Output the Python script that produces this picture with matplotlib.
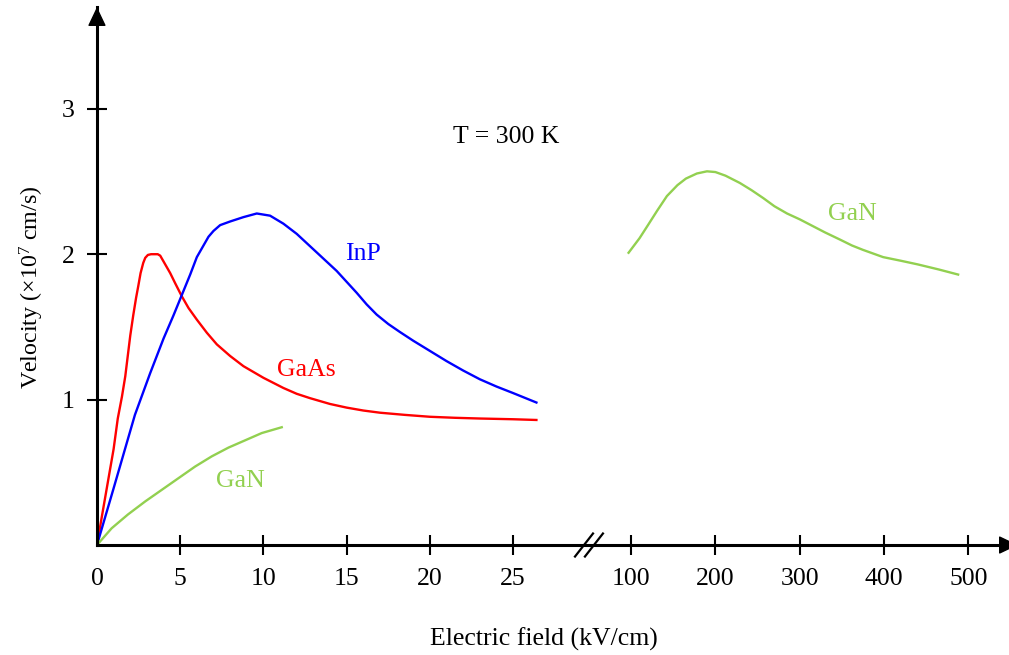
import numpy as np
import matplotlib.pyplot as plt

plt.rcParams['font.family'] = 'Liberation Serif'
plt.rcParams['mathtext.fontset'] = 'custom'
plt.rcParams['mathtext.rm'] = 'Liberation Serif'
plt.rcParams['mathtext.it'] = 'Liberation Serif:italic'
plt.rcParams['mathtext.default'] = 'regular'

# drift velocity (x1e7 cm/s) vs electric field (kV/cm) at 300 K
gaas_field = [0, 0.3, 0.68, 1.0, 1.25, 1.5, 1.7, 1.85, 2.0, 2.18, 2.35, 2.48, 2.62, 2.78,
              2.9, 3.06, 3.25, 3.45, 3.65, 3.8, 3.95, 4.2, 4.4, 4.7, 5.1, 5.5, 6.0, 6.6,
              7.2, 8.0, 8.8, 10.0, 11.2, 12.0, 12.8, 14.0, 15.0, 16.0, 17.0, 18.5, 20.0,
              21.5, 23.0, 25.0, 26.4]
gaas_vel = [0, 0.2, 0.45, 0.66, 0.87, 1.02, 1.16, 1.30, 1.44, 1.58, 1.70, 1.78, 1.87, 1.94,
            1.975, 1.995, 2.0, 2.0, 2.0, 1.99, 1.96, 1.91, 1.87, 1.80, 1.71, 1.63, 1.55, 1.46,
            1.38, 1.30, 1.23, 1.15, 1.08, 1.04, 1.01, 0.97, 0.945, 0.925, 0.91, 0.895, 0.882,
            0.875, 0.87, 0.865, 0.86]

inp_field = [0, 1.0, 2.28, 3.19, 4.0, 4.6, 5.1, 5.6, 6.0, 6.4, 6.7, 7.0, 7.4, 8.0, 8.8,
             9.6, 10.4, 11.2, 12.0, 12.8, 13.6, 14.4, 15.0, 15.6, 16.2, 16.8, 17.5, 18.2,
             19.0, 20.0, 21.0, 22.0, 23.0, 24.0, 25.0, 26.4]
inp_vel = [0, 0.39, 0.895, 1.18, 1.42, 1.58, 1.72, 1.86, 1.98, 2.06, 2.12, 2.16, 2.20, 2.225,
           2.255, 2.28, 2.265, 2.21, 2.14, 2.055, 1.97, 1.885, 1.81, 1.735, 1.655, 1.585,
           1.52, 1.465, 1.405, 1.335, 1.265, 1.20, 1.14, 1.09, 1.045, 0.98]

gan_low_field = [0, 0.88, 1.86, 2.9, 3.9, 4.9, 5.9, 6.9, 7.9, 8.9, 9.9, 11.1]
gan_low_vel = [0, 0.115, 0.21, 0.30, 0.38, 0.46, 0.54, 0.61, 0.67, 0.72, 0.77, 0.81]

gan_high_field = [97, 110, 120, 131, 142.5, 155, 165, 178, 190, 200, 212, 229, 243, 257,
                  270, 285, 300, 315, 330, 348, 362, 375, 399, 420, 440, 465, 488]
gan_high_vel = [2.01, 2.11, 2.20, 2.30, 2.40, 2.475, 2.52, 2.555, 2.57, 2.565, 2.54, 2.49,
                2.44, 2.385, 2.33, 2.28, 2.24, 2.195, 2.15, 2.10, 2.06, 2.03, 1.98, 1.955,
                1.93, 1.895, 1.86]

low_ticks = [0, 5, 10, 15, 20, 25]
high_ticks = [100, 200, 300, 400, 500]
vel_ticks = [1, 2, 3]

# broken x axis: linear 0..29.6, then 100..500 squeezed by ~1/20
brk_x = [-100, 29.6, 55, 1000]
brk_u = [-100, 29.6, 29.81, 77.66]


def forward(x):
    return np.interp(x, brk_x, brk_u)


def inverse(u):
    return np.interp(u, brk_u, brk_x)


fig = plt.figure(figsize=(10.09, 6.55), dpi=100)
ax = fig.add_axes([0.0961, 0.1679, 0.9128, 0.8214])
ax.set_xscale('function', functions=(forward, inverse))
ax.set_xlim(0, 559)
ax.set_ylim(0, 3.70)

lw = 1.7
ax.plot(gaas_field, gaas_vel, color='#FF0000', lw=lw)
ax.plot(inp_field, inp_vel, color='#0000FF', lw=lw)
ax.plot(gan_low_field, gan_low_vel, color='#92D050', lw=lw)
ax.plot(gan_high_field, gan_high_vel, color='#92D050', lw=lw)

for s in ['top', 'right']:
    ax.spines[s].set_visible(False)
for s in ['left', 'bottom']:
    ax.spines[s].set_linewidth(2.2)

ax.set_xticks(low_ticks + high_ticks)
ax.set_xticklabels([str(t) for t in low_ticks + high_ticks])
ax.set_yticks(vel_ticks)
ax.tick_params(direction='inout', length=14.4, width=1.5, pad=9,
               labelsize=18.5, colors='black')
ax.xaxis.get_major_ticks()[0].tick1line.set_visible(False)

# arrow heads on both axes
head = dict(arrowstyle='-|>,head_length=0.8,head_width=0.38', mutation_scale=15,
            color='black', lw=1, shrinkA=0, shrinkB=0)
ax.annotate('', xy=(0, 1), xycoords='axes fraction', xytext=(0, -20),
            textcoords='offset points', arrowprops=head, annotation_clip=False)
ax.annotate('', xy=(1, 0), xycoords='axes fraction', xytext=(-20, 0),
            textcoords='offset points', arrowprops=head, annotation_clip=False)

# break marks "//"
xb, dx, dy = 0.5342, 0.00977, 0.0214
for off in (-0.0054, 0.0054):
    ax.plot([xb + off - dx, xb + off + dx], [-dy, dy], transform=ax.transAxes,
            color='black', lw=1.6, clip_on=False)

fs = 18.5
ax.text(24.61, 2.767, 'T = 300 K', fontsize=fs, ha='center', va='baseline')
ax.text(16.0, 1.957, 'InP', fontsize=fs, color='#0000FF', ha='center', va='baseline')
ax.text(12.58, 1.165, 'GaAs', fontsize=fs, color='#FF0000', ha='center', va='baseline')
ax.text(8.64, 0.401, 'GaN', fontsize=fs, color='#92D050', ha='center', va='baseline')
ax.text(362, 2.237, 'GaN', fontsize=fs, color='#92D050', ha='center', va='baseline')

ax.set_xlabel('Electric field (kV/cm)', fontsize=fs, va='baseline')
ax.xaxis.set_label_coords(0.4853, -0.1877)
ax.set_ylabel('Velocity (×10$^{7}$ cm/s)', fontsize=17.3, va='baseline', ha='center',
              rotation_mode='anchor')
ax.yaxis.set_label_coords(-0.064, 0.479)

fig.savefig('out.png', dpi=100)
